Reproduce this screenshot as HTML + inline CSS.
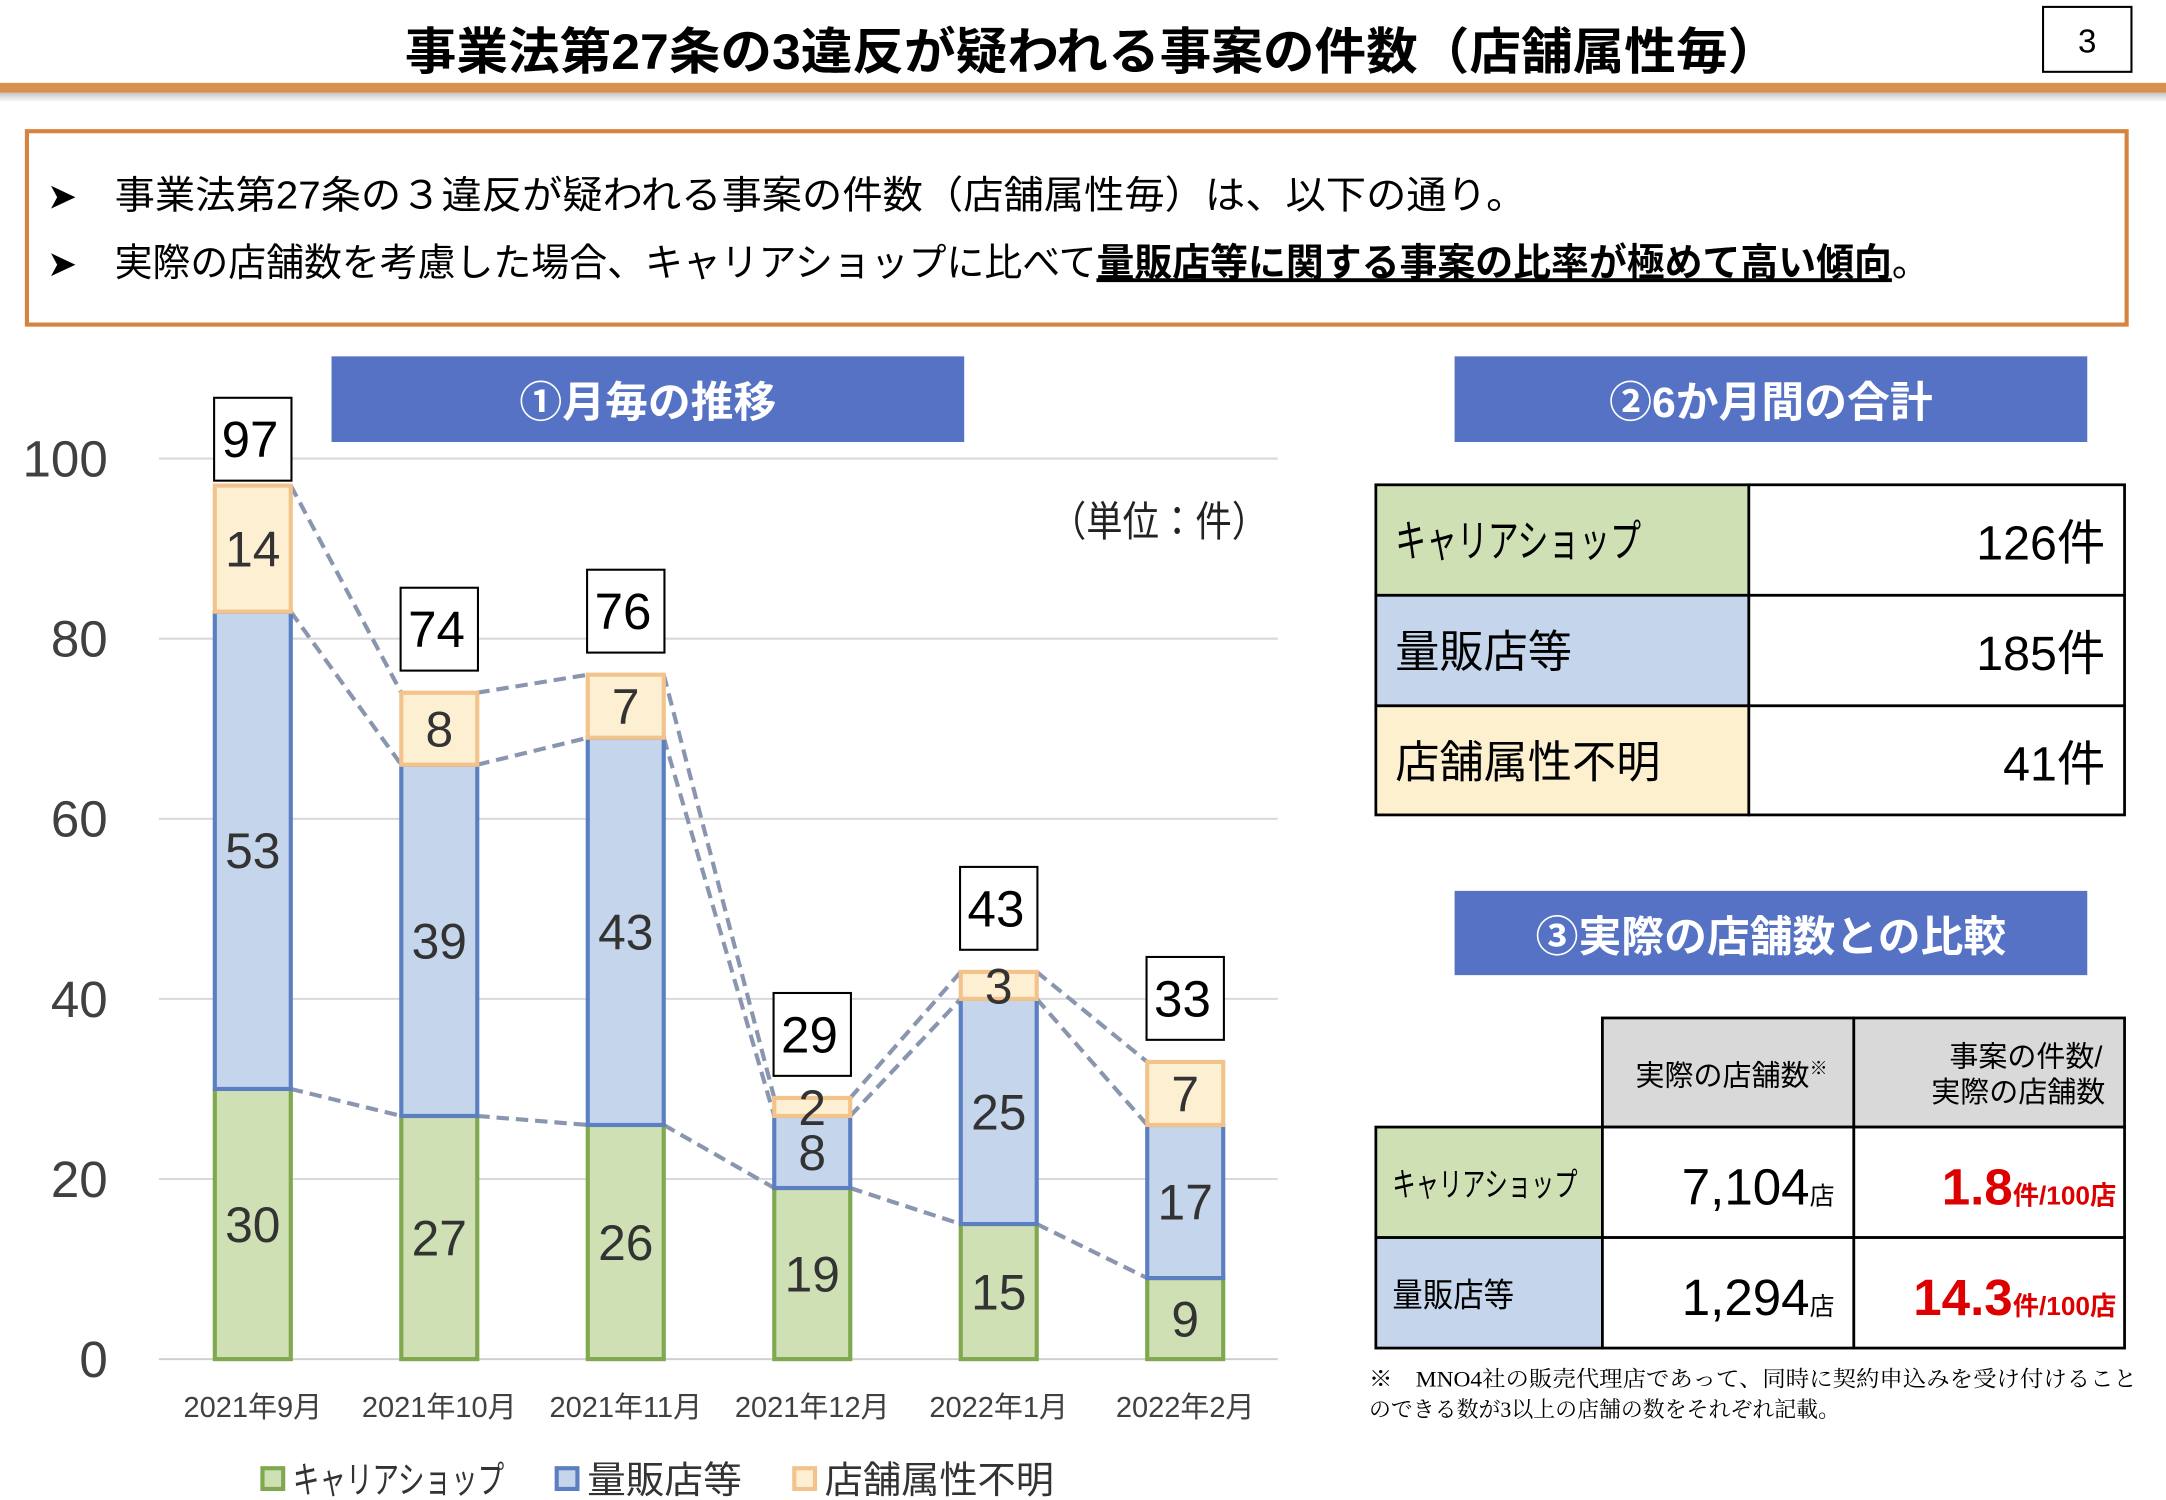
<!DOCTYPE html>
<html><head><meta charset="utf-8"><style>
html,body{margin:0;padding:0;background:#fff;}
svg{display:block;font-family:"Liberation Sans","Noto Sans CJK JP",sans-serif;}
</style></head><body>
<svg id="s" width="2166" height="1500" viewBox="0 0 1568 1086" preserveAspectRatio="none" xmlns="http://www.w3.org/2000/svg">
<defs><linearGradient id="sh" x1="0" y1="0" x2="0" y2="1"><stop offset="0" stop-color="#bbb"/><stop offset="1" stop-color="#fff"/></linearGradient></defs>
<text x="293" y="50" textLength="995" lengthAdjust="spacingAndGlyphs" font-size="36" font-weight="bold" fill="#000">事業法第27条の3違反が疑われる事案の件数（店舗属性毎）</text>
<rect x="1479" y="5" width="64" height="47" fill="#fff" stroke="#000" stroke-width="1.5"/>
<text x="1511" y="38" text-anchor="middle" font-size="24">3</text>
<rect x="0" y="66" width="1568" height="8" fill="url(#sh)"/>
<rect x="0" y="60" width="1568" height="7" fill="#d98f4e"/>
<rect x="19.5" y="95" width="1520" height="140" fill="#fff" stroke="#d5843f" stroke-width="3"/>
<text x="34" y="151" font-size="26">➤</text>
<text x="83" y="151" font-size="28" textLength="1022" lengthAdjust="spacingAndGlyphs">事業法第27条の３違反が疑われる事案の件数（店舗属性毎）は、以下の通り。</text>
<text x="34" y="200" font-size="26">➤</text>
<text x="83" y="200" font-size="28" textLength="1314" lengthAdjust="spacingAndGlyphs">実際の店舗数を考慮した場合、キャリアショップに比べて<tspan font-weight="bold" text-decoration="underline">量販店等に関する事案の比率が極めて高い傾向</tspan>。</text>

<rect x="240" y="258" width="458" height="62" fill="#5572c4"/>
<text x="469" y="302" text-anchor="middle" font-size="31" font-weight="bold" fill="#fff">①月毎の推移</text>
<rect x="1053" y="258" width="458" height="62" fill="#5572c4"/>
<text x="1282" y="302" text-anchor="middle" font-size="31" font-weight="bold" fill="#fff">②6か月間の合計</text>
<rect x="1053" y="645" width="458" height="61" fill="#5572c4"/>
<text x="1282" y="689" text-anchor="middle" font-size="31" font-weight="bold" fill="#fff">③実際の店舗数との比較</text>
<text x="760" y="388" font-size="30" textLength="158" lengthAdjust="spacingAndGlyphs" fill="#222">（単位：件）</text>

<g id="chart"></g>

<g>
<rect x="190" y="1063" width="15" height="15" fill="#cfe0b5" stroke="#7fa84f" stroke-width="3"/>
<text x="212" y="1081" font-size="27" textLength="153" lengthAdjust="spacingAndGlyphs" fill="#333">キャリアショップ</text>
<rect x="403" y="1063" width="15" height="15" fill="#c5d5ec" stroke="#5b7fc0" stroke-width="3"/>
<text x="425" y="1081" font-size="27" textLength="112" lengthAdjust="spacingAndGlyphs" fill="#333">量販店等</text>
<rect x="575" y="1063" width="15" height="15" fill="#fdefd2" stroke="#f2c38b" stroke-width="3"/>
<text x="597" y="1081" font-size="27" textLength="166" lengthAdjust="spacingAndGlyphs" fill="#333">店舗属性不明</text>
</g>

<g stroke="#000" stroke-width="2">
<rect x="996" y="351" width="270" height="80" fill="#cfe0b5"/>
<rect x="996" y="431" width="270" height="80" fill="#c5d5ec"/>
<rect x="996" y="511" width="270" height="79" fill="#fdf0cf"/>
<rect x="1266" y="351" width="272" height="80" fill="#fff"/>
<rect x="1266" y="431" width="272" height="80" fill="#fff"/>
<rect x="1266" y="511" width="272" height="79" fill="#fff"/>
</g>
<g font-size="32" fill="#000">
<text x="1010" y="403" textLength="178" lengthAdjust="spacingAndGlyphs">キャリアショップ</text>
<text x="1010" y="483" textLength="128" lengthAdjust="spacingAndGlyphs">量販店等</text>
<text x="1010" y="563" textLength="192" lengthAdjust="spacingAndGlyphs">店舗属性不明</text>
<text x="1524" y="405" text-anchor="end" font-size="35">126件</text>
<text x="1524" y="485" text-anchor="end" font-size="35">185件</text>
<text x="1524" y="565" text-anchor="end" font-size="35">41件</text>
</g>

<g stroke="#000" stroke-width="2">
<rect x="1160" y="737" width="182" height="79" fill="#d9d9d9"/>
<rect x="1342" y="737" width="196" height="79" fill="#d9d9d9"/>
<rect x="996" y="816" width="164" height="80" fill="#cfe0b5"/>
<rect x="996" y="896" width="164" height="80" fill="#c5d5ec"/>
<rect x="1160" y="816" width="182" height="80" fill="#fff"/>
<rect x="1160" y="896" width="182" height="80" fill="#fff"/>
<rect x="1342" y="816" width="196" height="80" fill="#fff"/>
<rect x="1342" y="896" width="196" height="80" fill="#fff"/>
</g>
<g fill="#000">
<text x="1184" y="786" font-size="21">実際の店舗数<tspan font-size="13" dy="-8">※</tspan></text>
<text x="1522" y="772" text-anchor="end" font-size="21">事案の件数/</text>
<text x="1524" y="798" text-anchor="end" font-size="21">実際の店舗数</text>
<text x="1008" y="866" font-size="24" textLength="134" lengthAdjust="spacingAndGlyphs">キャリアショップ</text>
<text x="1008" y="946" font-size="24" textLength="88" lengthAdjust="spacingAndGlyphs">量販店等</text>
<text x="1328" y="872" text-anchor="end" font-size="37">7,104<tspan font-size="18">店</tspan></text>
<text x="1328" y="952" text-anchor="end" font-size="37">1,294<tspan font-size="18">店</tspan></text>
<text x="1532" y="872" text-anchor="end" font-size="37" font-weight="bold" fill="#d00">1.8<tspan font-size="19">件/100店</tspan></text>
<text x="1532" y="952" text-anchor="end" font-size="37" font-weight="bold" fill="#d00">14.3<tspan font-size="19">件/100店</tspan></text>
<text x="991" y="1004" font-size="16" textLength="556" lengthAdjust="spacingAndGlyphs" font-family="Liberation Serif,Noto Serif CJK SC,serif">※　MNO4社の販売代理店であって、同時に契約申込みを受け付けること</text>
<text x="991" y="1026" font-size="16" textLength="341" lengthAdjust="spacingAndGlyphs" font-family="Liberation Serif,Noto Serif CJK SC,serif">のできる数が3以上の店舗の数をそれぞれ記載。</text>
</g>
</svg>
<script>
const categories=["2021年9月","2021年10月","2021年11月","2021年12月","2022年1月","2022年2月"];
const carrier=[30,27,26,19,15,9];
const massRetail=[53,39,43,8,25,17];
const unknown=[14,8,7,2,3,7];
const totals=[97,74,76,29,43,33];
const yTicks=[0,20,40,60,80,100];
const NS="http://www.w3.org/2000/svg";
const g=document.getElementById('chart');
const y0=984,yScale=6.52,x0=115,x1=925,step=135,bw=55;
const Y=v=>y0-v*yScale;
const X=i=>183+i*step;
function mk(t,a,p){const e=document.createElementNS(NS,t);for(const k in a)e.setAttribute(k,a[k]);(p||g).appendChild(e);return e;}
yTicks.forEach(v=>{
  const l=mk('line',{x1:x0,x2:x1,y1:Y(v),y2:Y(v),stroke:v===0?'#d0d0d0':'#d9d9d9','stroke-width':1.5});
  
  
  const t=mk('text',{x:78,y:Y(v)+13,'text-anchor':'end','font-size':37,fill:'#404040'});
  t.textContent=v;
  
  
});
const series=[
 {d:carrier,n:'carrier',f:'#cfe0b5',s:'#7fa84f'},
 {d:massRetail,n:'mass',f:'#c5d5ec',s:'#5b7fc0'},
 {d:unknown,n:'unknown',f:'#fdefd2',s:'#f2c38b'}];
const bounds=[carrier.map(v=>v),carrier.map((v,i)=>v+massRetail[i]),carrier.map((v,i)=>v+massRetail[i]+unknown[i])];
bounds.forEach(b=>{for(let i=0;i<b.length-1;i++){
  const l=mk('line',{x1:X(i)+bw/2,y1:Y(b[i]),x2:X(i+1)-bw/2,y2:Y(b[i+1]),stroke:'#8a96b0','stroke-width':3,'stroke-dasharray':'9 5'});
  
  
}});
categories.forEach((c,i)=>{
  let base=0;
  series.forEach(s=>{
    const v=s.d[i];
    const r=mk('rect',{x:X(i)-bw/2,y:Y(base+v),width:bw,height:v*yScale,fill:s.f,stroke:s.s,'stroke-width':3});
    
    
    const t=mk('text',{x:X(i),y:Y(base+v/2)+13,'text-anchor':'middle','font-size':36,fill:'#333'});
    t.textContent=v;
    
    
    base+=v;
  });
  const top=Y(totals[i]);
  const by=Math.max(288,top-76);
  const b=mk('rect',{x:X(i)-28,y:by,width:56,height:60,fill:'#fff',stroke:'#000','stroke-width':1.5});
  
  
  const tt=mk('text',{x:X(i)-2,y:by+43,'text-anchor':'middle','font-size':37,fill:'#000'});
  tt.textContent=totals[i];
  
  
  const ct=mk('text',{x:X(i),y:1026,'text-anchor':'middle','font-size':21,fill:'#404040'});
  ct.textContent=c;
  
  
});
</script>
</body></html>
